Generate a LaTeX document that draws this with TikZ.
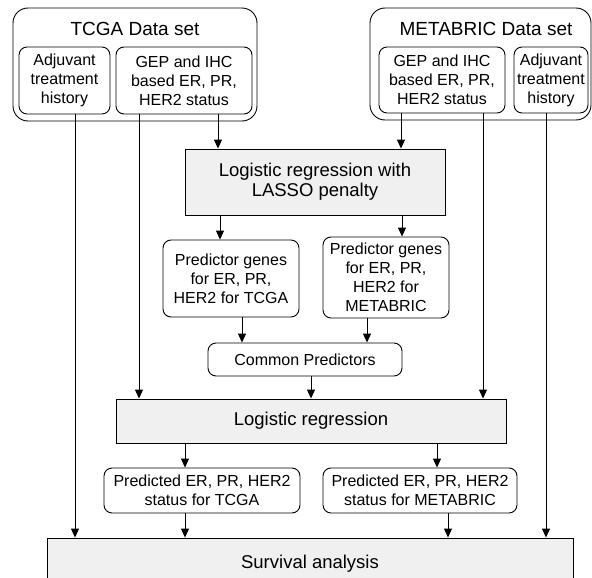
\documentclass[tikz,border=0pt]{standalone}
\usepackage{fontspec}
\setmainfont{Liberation Sans}
\usetikzlibrary{arrows.meta}
\definecolor{boxgrey}{HTML}{F0F0F0}

\begin{document}
\begin{tikzpicture}[
    x = 1pt,
    y = -1pt,
    line width = 0.9pt,
    >={Triangle[length=9pt,width=8pt]},
    set/.style = {
      draw,
      rounded corners = 15pt,
      inner sep = 0pt
    },
    head/.style = {
      font = \fontsize{19}{22}\selectfont
    },
    box/.style = {
      draw,
      rounded corners = 8pt,
      align = center,
      inner sep = 0pt,
      font = \fontsize{16}{19}\selectfont
    },
    grey/.style = {
      draw,
      fill = boxgrey,
      align = center,
      inner sep = 0pt,
      font = \fontsize{18.5}{20}\selectfont
    }
  ]
  \useasboundingbox (0,0) rectangle (592,578);
  \clip (0,0) rectangle (592,578);

  \node[set, minimum width=244pt, minimum height=113pt] (tcga) at (135,64.5) {};
  \node[head] (tcgahead) at (135,29) {TCGA Data set};
  \node[box, minimum width=91pt, minimum height=67pt] (tcgaadj) at (64.5,80.5) {Adjuvant\\treatment\\history};
  \node[box, minimum width=136pt, minimum height=67pt] (tcgagep) at (184,80.5) {GEP and IHC\\based ER, PR,\\HER2 status};

  \node[set, minimum width=221pt, minimum height=112pt] (meta) at (480.5,64) {};
  \node[head] (metahead) at (486,29) {METABRIC Data set};
  \node[box, minimum width=126pt, minimum height=66pt] (metagep) at (442,80) {GEP and IHC\\based ER, PR,\\HER2 status};
  \node[box, minimum width=74pt, minimum height=66pt] (metaadj) at (551,80) {Adjuvant\\treatment\\history};

  \node[grey, minimum width=260pt, minimum height=66pt] (lasso) at (315,182) {Logistic regression with\\LASSO penalty};

  \node[box, minimum width=136pt, minimum height=77pt] (predtcga) at (231,278.5) {Predictor genes\\for ER, PR,\\HER2 for TCGA};
  \node[box, minimum width=126pt, minimum height=81pt] (predmeta) at (386,277.5) {Predictor genes\\for ER, PR,\\HER2 for\\METABRIC};

  \node[box, minimum width=194pt, minimum height=33pt] (common) at (305,359.5) {Common Predictors};

  \node[grey, minimum width=390pt, minimum height=44pt] (logreg) at (311,421) {Logistic regression};

  \node[box, minimum width=196pt, minimum height=45pt, font=\fontsize{16}{18.5}\selectfont] (ptcga) at (202,490.5) {Predicted ER, PR, HER2\\status for TCGA};
  \node[box, minimum width=194pt, minimum height=45pt, font=\fontsize{16}{18.5}\selectfont] (pmeta) at (420,490.5) {Predicted ER, PR, HER2\\status for METABRIC};

  \node[grey, minimum width=526pt, minimum height=52pt] (surv) at (310,564) {Survival analysis};

  \draw[->] (tcgaadj.south -| 75,0) -- (surv.north -| 75,0);
  \draw[->] (tcgagep.south -| 139,0) -- (logreg.north -| 139,0);
  \draw[->] (tcgagep.south -| 218,0) -- (lasso.north -| 218,0);
  \draw[->] (metagep.south -| 401,0) -- (lasso.north -| 401,0);
  \draw[->] (metagep.south -| 483,0) -- (logreg.north -| 483,0);
  \draw[->] (metaadj.south -| 546,0) -- (surv.north -| 546,0);

  \draw[->] (lasso.south -| 220,0) -- (predtcga.north -| 220,0);
  \draw[->] (lasso.south -| 402,0) -- (predmeta.north -| 402,0);
  \draw[->] (predtcga.south -| 242,0) -- (common.north -| 242,0);
  \draw[->] (predmeta.south -| 367,0) -- (common.north -| 367,0);
  \draw[->] (common.south -| 311,0) -- (logreg.north -| 311,0);

  \draw[->] (logreg.south -| 185,0) -- (ptcga.north -| 185,0);
  \draw[->] (logreg.south -| 437,0) -- (pmeta.north -| 437,0);
  \draw[->] (ptcga.south -| 185,0) -- (surv.north -| 185,0);
  \draw[->] (pmeta.south -| 448,0) -- (surv.north -| 448,0);
\end{tikzpicture}
\end{document}
